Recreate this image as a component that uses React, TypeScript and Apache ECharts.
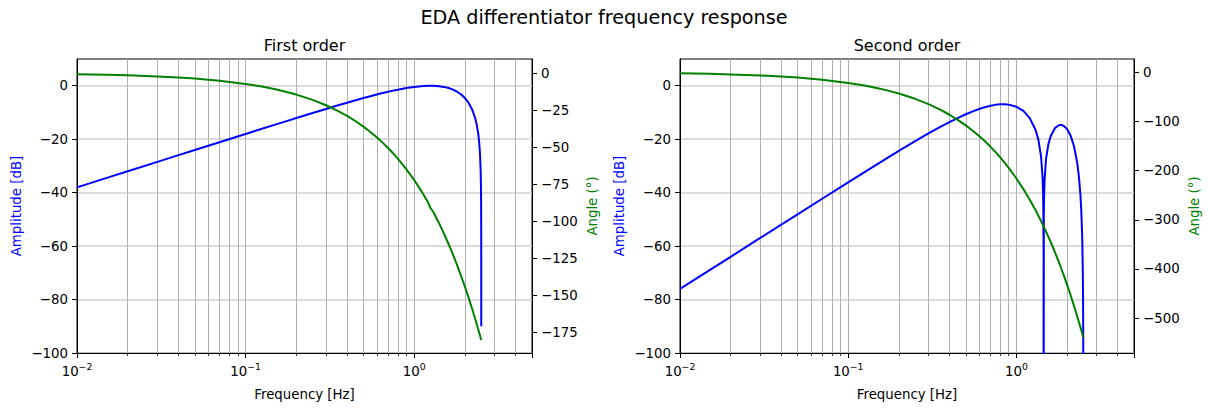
import React, { useEffect, useRef } from "react";
import * as echarts from "echarts";

// ---------- data ----------
const FREQ_FIRST = [
  0.01, 0.015, 0.02, 0.03, 0.04, 0.05, 0.07, 0.1, 0.125, 0.15, 0.175, 0.2, 0.25, 0.3, 0.35, 0.4, 0.45, 0.5,
  0.55, 0.6, 0.65, 0.7, 0.75, 0.8, 0.9, 1.0, 1.1, 1.2, 1.25, 1.3, 1.4, 1.5, 1.6, 1.7, 1.8, 1.9, 2.0, 2.1,
  2.2, 2.3, 2.35, 2.4, 2.43, 2.46, 2.48, 2.49, 2.495, 2.498, 2.4995, 2.49997,
];
const AMP_FIRST = [
  -38.02, -34.49, -32.0, -28.48, -25.98, -24.04, -21.13, -18.04, -16.11, -14.55, -13.23, -12.09, -10.2,
  -8.68, -7.42, -6.34, -5.42, -4.62, -3.91, -3.29, -2.75, -2.26, -1.84, -1.47, -0.87, -0.44, -0.16, -0.02,
  0.0, -0.02, -0.16, -0.44, -0.87, -1.47, -2.26, -3.29, -4.62, -6.34, -8.68, -12.09, -14.55, -18.04,
  -21.13, -25.98, -32.0, -38.02, -44.04, -52.0, -64.04, -90.0,
];
const PHASE_FIRST = [
  -0.72, -1.08, -1.44, -2.16, -2.88, -3.6, -5.04, -7.2, -9.0, -10.8, -12.6, -14.4, -18.0, -21.6, -25.2,
  -28.8, -32.4, -36.0, -39.6, -43.2, -46.8, -50.4, -54.0, -57.6, -64.8, -72.0, -79.2, -86.4, -90.9, -93.6,
  -100.8, -108.0, -115.2, -122.4, -129.6, -136.8, -144.0, -151.2, -158.4, -165.6, -169.2, -172.8, -174.96,
  -177.12, -178.56, -179.28, -179.64, -179.86, -179.96, -180.0,
];

const FREQ_SECOND = [
  0.01, 0.015, 0.02, 0.03, 0.04, 0.05, 0.07, 0.1, 0.125, 0.15, 0.175, 0.2, 0.25, 0.3, 0.35, 0.4, 0.45, 0.5,
  0.55, 0.6, 0.65, 0.7, 0.75, 0.8, 0.85, 0.9, 1.0, 1.1, 1.2, 1.3, 1.35, 1.4, 1.43, 1.44, 1.445, 1.45,
  1.4511, 1.455, 1.46, 1.47, 1.5, 1.55, 1.6, 1.7, 1.8, 1.85, 1.9, 2.0, 2.1, 2.2, 2.3, 2.35, 2.4, 2.43,
  2.46, 2.48, 2.49, 2.495, 2.498, 2.5,
];
const AMP_SECOND = [
  -76.04, -68.98, -64.0, -56.96, -51.97, -48.1, -42.28, -36.13, -32.31, -29.21, -26.63, -24.4, -20.75,
  -17.86, -15.52, -13.59, -12.0, -10.67, -9.58, -8.71, -8.02, -7.5, -7.16, -6.97, -6.94, -7.08, -7.86,
  -9.43, -12.1, -16.56, -20.16, -26.31, -34.18, -39.83, -45.1, -60.1, -200.0, -48.96, -41.84, -35.39,
  -27.39, -21.75, -18.78, -15.76, -14.7, -14.67, -14.91, -16.22, -18.69, -22.65, -28.98, -33.73, -40.61,
  -46.73, -56.41, -68.43, -80.48, -92.51, -108.4, -200.0,
];
const PHASE_SECOND = [
  -2.16, -3.24, -4.32, -6.48, -8.64, -10.8, -15.12, -21.6, -27.0, -32.4, -37.8, -43.2, -54.0, -64.8, -75.6,
  -86.4, -97.2, -108.0, -118.8, -129.6, -140.4, -151.2, -162.0, -172.8, -183.6, -194.4, -216.0, -237.6,
  -259.2, -280.8, -291.6, -302.4, -308.88, -311.04, -312.12, -313.2, -313.44, -314.28, -315.36, -317.52,
  -324.0, -334.8, -345.6, -367.2, -388.8, -399.6, -410.4, -432.0, -453.6, -475.2, -496.8, -507.6, -518.4,
  -524.88, -531.36, -535.68, -537.84, -538.92, -539.57, -540.0,
];

const AMP_TICKS = [-100, -80, -60, -40, -20, 0];
const ANGLE_TICKS_FIRST = [-175, -150, -125, -100, -75, -50, -25, 0];
const ANGLE_TICKS_SECOND = [-500, -400, -300, -200, -100, 0];

const X_MIN = 0.01;
const X_MAX = 5;
const AMP_RANGE = [-100, 10];
const ANGLE_RANGE_FIRST = [-188.7, 9.6];
const ANGLE_RANGE_SECOND = [-571, 27];

const TITLE = "EDA differentiator frequency response";
const SUBTITLES = ["First order", "Second order"];

// ---------- styling ----------
const FONT = "DejaVu Sans";
const BLUE = "#0000ff";
const GREEN = "#008000";

const minus = (v: number | string) => String(v).replace("-", "\u2212");

const xAxisFor = (gridIndex: number) => ({
  type: "log",
  logBase: 10,
  gridIndex,
  min: X_MIN,
  max: X_MAX,
  name: "Frequency [Hz]",
  nameLocation: "middle",
  nameGap: 35,
  nameTextStyle: { fontFamily: FONT, fontSize: 13.33, color: "#000" },
  axisLine: { show: true, onZero: false, lineStyle: { color: "#000", width: 1 } },
  axisTick: { show: true, length: 5, lineStyle: { color: "#000", width: 1 } },
  minorTick: { show: true, splitNumber: 9, length: 3, lineStyle: { color: "#000", width: 0.8 } },
  splitLine: { show: true, lineStyle: { color: "#b0b0b0", width: 1 } },
  minorSplitLine: { show: true, lineStyle: { color: "#b0b0b0", width: 1 } },
  axisLabel: {
    margin: 9,
    fontFamily: FONT,
    color: "#000",
    showMaxLabel: false,
    formatter: (v: number) => {
      const e = Math.log10(v);
      if (Math.abs(e - Math.round(e)) > 1e-6) return "";
      return `{b|10}{s|${minus(Math.round(e))}}`;
    },
    rich: {
      b: { fontFamily: FONT, fontSize: 13.33, lineHeight: 16, verticalAlign: "bottom", color: "#000" },
      s: { fontFamily: FONT, fontSize: 9.3, lineHeight: 10, verticalAlign: "top", color: "#000" },
    },
  },
});

const ampAxisFor = (gridIndex: number) => ({
  type: "value",
  gridIndex,
  position: "left",
  min: AMP_RANGE[0],
  max: AMP_RANGE[1],
  name: "Amplitude [dB]",
  nameLocation: "middle",
  nameRotate: 90,
  nameGap: 54,
  nameTextStyle: { fontFamily: FONT, fontSize: 13.33, color: BLUE },
  axisLine: { show: true, onZero: false, lineStyle: { color: "#000", width: 1 } },
  axisTick: { show: true, length: 5, customValues: AMP_TICKS, lineStyle: { color: "#000", width: 1 } },
  splitLine: { show: true, lineStyle: { color: "#cfcfcf", width: 1.6 } },
  axisLabel: {
    margin: 9,
    fontFamily: FONT,
    fontSize: 13.33,
    color: "#000",
    customValues: AMP_TICKS,
    formatter: (v: number) => minus(v),
  },
});

const angleAxisFor = (gridIndex: number, range: number[], ticks: number[]) => ({
  type: "value",
  gridIndex,
  position: "right",
  min: range[0],
  max: range[1],
  name: "Angle (°)",
  nameLocation: "middle",
  nameRotate: 90,
  nameGap: 54,
  nameTextStyle: { fontFamily: FONT, fontSize: 13.33, color: GREEN },
  axisLine: { show: true, onZero: false, lineStyle: { color: "#000", width: 1 } },
  axisTick: { show: true, length: 5, customValues: ticks, lineStyle: { color: "#000", width: 1 } },
  splitLine: { show: false },
  axisLabel: {
    margin: 9,
    fontFamily: FONT,
    fontSize: 13.33,
    color: "#000",
    customValues: ticks,
    formatter: (v: number) => minus(v),
  },
});

const lineSeries = (xAxisIndex: number, yAxisIndex: number, xs: number[], ys: number[], color: string) => ({
  type: "line",
  xAxisIndex,
  yAxisIndex,
  data: xs.map((x, i) => [x, ys[i]]),
  showSymbol: false,
  symbol: "none",
  clip: true,
  lineStyle: { color, width: 2 },
  itemStyle: { color },
  silent: true,
});

export default function App() {
  const ref = useRef<HTMLDivElement>(null);

  useEffect(() => {
    if (!ref.current) return;
    const chart = echarts.init(ref.current, undefined, { renderer: "svg" });
    chart.setOption({
      animation: false,
      backgroundColor: "#ffffff",
      textStyle: { fontFamily: FONT },
      title: [
        {
          text: TITLE,
          left: 604,
          top: 8,
          textAlign: "center",
          padding: 0,
          textStyle: { fontFamily: FONT, fontSize: 19.2, fontWeight: "normal", color: "#000" },
        },
        {
          text: SUBTITLES[0],
          left: 304.5,
          top: 37,
          textAlign: "center",
          padding: 0,
          textStyle: { fontFamily: FONT, fontSize: 16, fontWeight: "normal", color: "#000" },
        },
        {
          text: SUBTITLES[1],
          left: 907,
          top: 37,
          textAlign: "center",
          padding: 0,
          textStyle: { fontFamily: FONT, fontSize: 16, fontWeight: "normal", color: "#000" },
        },
      ],
      grid: [
        { left: 77, top: 59, width: 455, height: 294, show: true, borderColor: "#000", borderWidth: 1, backgroundColor: "transparent" },
        { left: 680, top: 59, width: 454, height: 294, show: true, borderColor: "#000", borderWidth: 1, backgroundColor: "transparent" },
      ],
      xAxis: [xAxisFor(0), xAxisFor(1)],
      yAxis: [
        ampAxisFor(0),
        angleAxisFor(0, ANGLE_RANGE_FIRST, ANGLE_TICKS_FIRST),
        ampAxisFor(1),
        angleAxisFor(1, ANGLE_RANGE_SECOND, ANGLE_TICKS_SECOND),
      ],
      series: [
        lineSeries(0, 0, FREQ_FIRST, AMP_FIRST, BLUE),
        lineSeries(0, 1, FREQ_FIRST, PHASE_FIRST, GREEN),
        lineSeries(1, 2, FREQ_SECOND, AMP_SECOND, BLUE),
        lineSeries(1, 3, FREQ_SECOND, PHASE_SECOND, GREEN),
      ],
    });
    return () => chart.dispose();
  }, []);

  return (
    <div
      ref={ref}
      style={{ position: "absolute", left: 0, top: 0, width: 1208, height: 409, background: "#fff" }}
    />
  );
}
